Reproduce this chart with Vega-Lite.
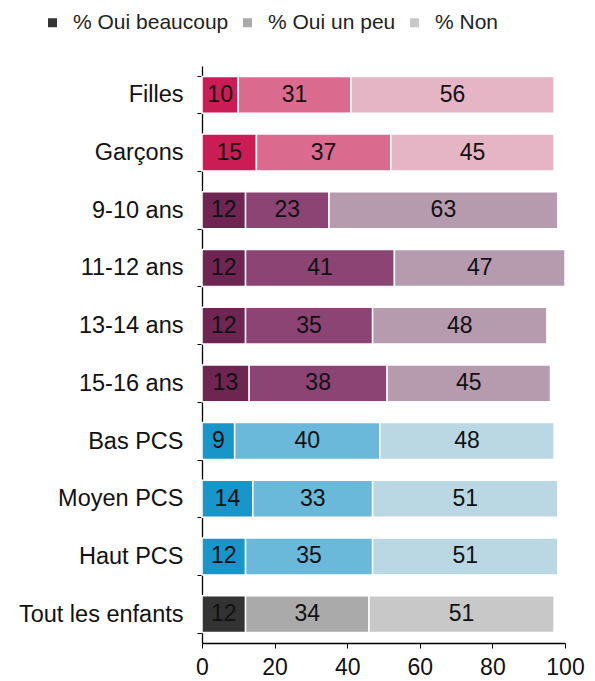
{
  "$schema": "https://vega.github.io/schema/vega-lite/v6.json",
  "width": 363,
  "height": 577,
  "autosize": "none",
  "padding": {"left": 202, "top": 66, "right": 30, "bottom": 38},
  "config": {"font": "Liberation Sans", "view": {"stroke": null}},
  "data": {
    "values": [
      {"categorie": "Filles", "groupe": "Sexe", "reponse": "% Oui beaucoup", "valeur": 10},
      {"categorie": "Filles", "groupe": "Sexe", "reponse": "% Oui un peu", "valeur": 31},
      {"categorie": "Filles", "groupe": "Sexe", "reponse": "% Non", "valeur": 56},
      {"categorie": "Garçons", "groupe": "Sexe", "reponse": "% Oui beaucoup", "valeur": 15},
      {"categorie": "Garçons", "groupe": "Sexe", "reponse": "% Oui un peu", "valeur": 37},
      {"categorie": "Garçons", "groupe": "Sexe", "reponse": "% Non", "valeur": 45},
      {"categorie": "9-10 ans", "groupe": "Age", "reponse": "% Oui beaucoup", "valeur": 12},
      {"categorie": "9-10 ans", "groupe": "Age", "reponse": "% Oui un peu", "valeur": 23},
      {"categorie": "9-10 ans", "groupe": "Age", "reponse": "% Non", "valeur": 63},
      {"categorie": "11-12 ans", "groupe": "Age", "reponse": "% Oui beaucoup", "valeur": 12},
      {"categorie": "11-12 ans", "groupe": "Age", "reponse": "% Oui un peu", "valeur": 41},
      {"categorie": "11-12 ans", "groupe": "Age", "reponse": "% Non", "valeur": 47},
      {"categorie": "13-14 ans", "groupe": "Age", "reponse": "% Oui beaucoup", "valeur": 12},
      {"categorie": "13-14 ans", "groupe": "Age", "reponse": "% Oui un peu", "valeur": 35},
      {"categorie": "13-14 ans", "groupe": "Age", "reponse": "% Non", "valeur": 48},
      {"categorie": "15-16 ans", "groupe": "Age", "reponse": "% Oui beaucoup", "valeur": 13},
      {"categorie": "15-16 ans", "groupe": "Age", "reponse": "% Oui un peu", "valeur": 38},
      {"categorie": "15-16 ans", "groupe": "Age", "reponse": "% Non", "valeur": 45},
      {"categorie": "Bas PCS", "groupe": "PCS", "reponse": "% Oui beaucoup", "valeur": 9},
      {"categorie": "Bas PCS", "groupe": "PCS", "reponse": "% Oui un peu", "valeur": 40},
      {"categorie": "Bas PCS", "groupe": "PCS", "reponse": "% Non", "valeur": 48},
      {"categorie": "Moyen PCS", "groupe": "PCS", "reponse": "% Oui beaucoup", "valeur": 14},
      {"categorie": "Moyen PCS", "groupe": "PCS", "reponse": "% Oui un peu", "valeur": 33},
      {"categorie": "Moyen PCS", "groupe": "PCS", "reponse": "% Non", "valeur": 51},
      {"categorie": "Haut PCS", "groupe": "PCS", "reponse": "% Oui beaucoup", "valeur": 12},
      {"categorie": "Haut PCS", "groupe": "PCS", "reponse": "% Oui un peu", "valeur": 35},
      {"categorie": "Haut PCS", "groupe": "PCS", "reponse": "% Non", "valeur": 51},
      {"categorie": "Tout les enfants", "groupe": "Total", "reponse": "% Oui beaucoup", "valeur": 12},
      {"categorie": "Tout les enfants", "groupe": "Total", "reponse": "% Oui un peu", "valeur": 34},
      {"categorie": "Tout les enfants", "groupe": "Total", "reponse": "% Non", "valeur": 51}
    ]
  },
  "transform": [
    {"calculate": "indexof(['% Oui beaucoup','% Oui un peu','% Non'], datum.reponse)", "as": "rang"},
    {"stack": "valeur", "groupby": ["categorie"], "sort": [{"field": "rang", "order": "ascending"}], "as": ["debut", "fin"]},
    {"calculate": "(datum.debut + datum.fin) / 2", "as": "milieu"},
    {"calculate": "datum.groupe + '|' + datum.reponse", "as": "cle"}
  ],
  "encoding": {
    "y": {
      "field": "categorie",
      "type": "nominal",
      "sort": ["Filles", "Garçons", "9-10 ans", "11-12 ans", "13-14 ans", "15-16 ans", "Bas PCS", "Moyen PCS", "Haut PCS", "Tout les enfants"],
      "scale": {"paddingInner": 0.36, "paddingOuter": 0.18},
      "axis": {
        "title": null,
        "labelFontSize": 23.5,
        "labelColor": "#111111",
        "labelPadding": 14,
        "labelLimit": 300,
        "tickBand": "extent",
        "tickSize": 5,
        "tickColor": "#000000",
        "domainColor": "#000000",
        "domainWidth": 1.3
      }
    }
  },
  "layer": [
    {
      "transform": [{"filter": "datum.groupe !== 'Total'"}],
      "mark": {"type": "bar", "stroke": "white", "strokeWidth": 1.5},
      "encoding": {
        "x": {
          "field": "debut",
          "type": "quantitative",
          "scale": {"domain": [0, 100]},
          "axis": {
            "title": null,
            "values": [0, 20, 40, 60, 80, 100],
            "grid": false,
            "labelFontSize": 23,
            "labelColor": "#111111",
            "labelFlush": false,
            "labelPadding": 8,
            "tickSize": 5,
            "tickColor": "#000000",
            "domainColor": "#000000",
            "domainWidth": 1.3
          }
        },
        "x2": {"field": "fin"},
        "color": {
          "field": "cle",
          "type": "nominal",
          "scale": {
            "domain": ["Sexe|% Oui beaucoup", "Sexe|% Oui un peu", "Sexe|% Non", "Age|% Oui beaucoup", "Age|% Oui un peu", "Age|% Non", "PCS|% Oui beaucoup", "PCS|% Oui un peu", "PCS|% Non"],
            "range": ["#cc1c56", "#da6b8f", "#e6b5c5", "#6e2552", "#8b4474", "#b69aae", "#1996c9", "#6ab8da", "#b9d8e4"]
          },
          "legend": null
        }
      }
    },
    {
      "transform": [{"filter": "datum.groupe === 'Total'"}],
      "mark": {"type": "bar", "stroke": "white", "strokeWidth": 1.5},
      "encoding": {
        "x": {"field": "debut", "type": "quantitative"},
        "x2": {"field": "fin"},
        "color": {
          "field": "reponse",
          "type": "nominal",
          "scale": {
            "domain": ["% Oui beaucoup", "% Oui un peu", "% Non"],
            "range": ["#333333", "#aaaaaa", "#c8c8c8"]
          },
          "legend": {
            "title": null,
            "orient": "none",
            "legendX": -160,
            "legendY": -54,
            "direction": "horizontal",
            "symbolType": "square",
            "symbolSize": 81,
            "symbolStrokeWidth": 0,
            "labelFontSize": 21,
            "labelColor": "#222222",
            "labelOffset": 10,
            "columnPadding": 8,
            "labelLimit": 300
          }
        }
      }
    },
    {
      "mark": {"type": "text", "fontSize": 23, "color": "#111111"},
      "encoding": {
        "x": {"field": "milieu", "type": "quantitative"},
        "text": {"field": "valeur", "type": "quantitative"}
      }
    }
  ],
  "resolve": {"scale": {"color": "independent"}}
}
